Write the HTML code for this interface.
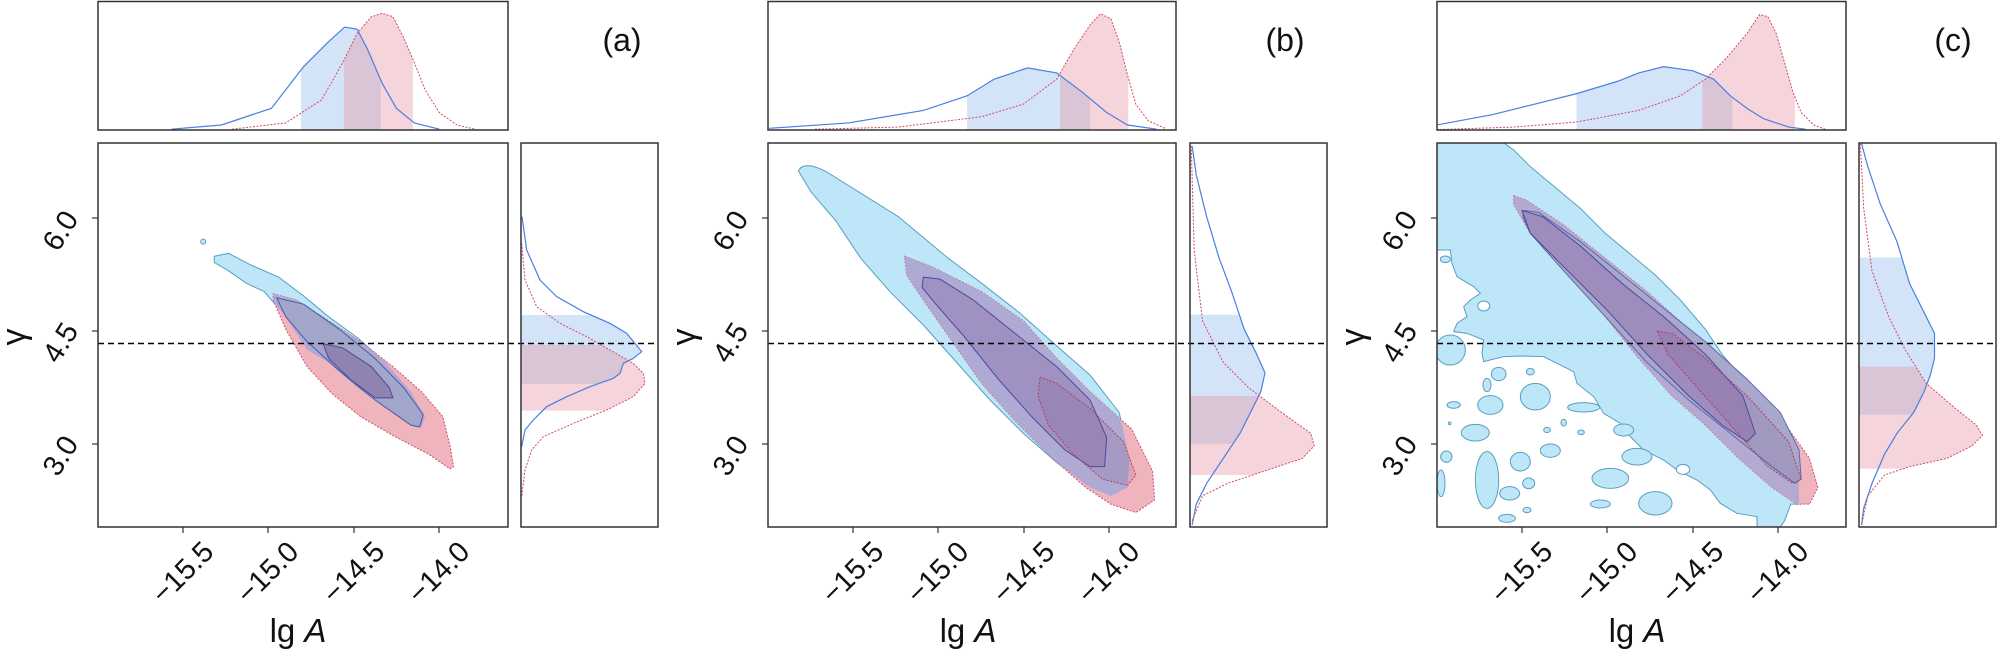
<!DOCTYPE html>
<html><head><meta charset="utf-8"><style>
html,body{margin:0;padding:0;background:#fff;}
svg{display:block;}
text{font-family:"Liberation Sans",sans-serif;fill:#111;}
.c{vector-effect:non-scaling-stroke;}
</style></head><body>
<svg width="2000" height="653" viewBox="0 0 2000 653" xmlns="http://www.w3.org/2000/svg">
<defs>
<clipPath id="ma"><rect x="98" y="143" width="410" height="384"/></clipPath>
<clipPath id="mb"><rect x="768" y="143" width="408" height="384"/></clipPath>
<clipPath id="mc"><rect x="1437" y="143" width="409" height="384"/></clipPath>
<clipPath id="ta"><rect x="98" y="1" width="410" height="129"/></clipPath>
<clipPath id="tb"><rect x="768" y="1" width="408" height="129"/></clipPath>
<clipPath id="tc"><rect x="1437" y="1" width="409" height="129"/></clipPath>
<clipPath id="sa1"><rect x="843" y="0" width="223" height="311"/></clipPath>
<clipPath id="sa2"><rect x="963" y="0" width="193" height="311"/></clipPath>
<clipPath id="sb1"><rect x="665" y="0" width="295" height="311"/></clipPath>
<clipPath id="sb2"><rect x="888" y="0" width="164" height="311"/></clipPath>
<clipPath id="sc1"><rect x="551" y="0" width="374" height="311"/></clipPath>
<clipPath id="sc2"><rect x="853" y="0" width="222" height="311"/></clipPath>
<clipPath id="ra1"><rect x="63" y="555" width="410" height="207"/></clipPath>
<clipPath id="ra2"><rect x="63" y="645" width="410" height="197"/></clipPath>
<clipPath id="rb1"><rect x="1201" y="755" width="330" height="310"/></clipPath>
<clipPath id="rb2"><rect x="1201" y="950" width="330" height="190"/></clipPath>
<clipPath id="rc1"><rect x="1230" y="618" width="330" height="377"/></clipPath>
<clipPath id="rc2"><rect x="1230" y="880" width="330" height="245"/></clipPath>
<clipPath id="boa"><path d="M600,615 L640,608 L700,635 L780,665 L850,710 L920,760 L1000,810 L1080,870 L1150,940 L1190,1000 L1180,1025 L1160,1025 L1100,990 L1000,930 L920,870 L860,840 L800,760 L740,700 L690,680 L640,650 L600,630 Z"/></clipPath>
<clipPath id="bob"><path d="M260,410 C270,390 300,395 340,420 L420,470 L500,520 L560,570 L620,620 L700,680 L790,750 L880,830 L960,900 L1030,990 L1055,1100 L1050,1170 L1010,1190 L960,1170 L880,1110 L800,1040 L720,960 L640,870 L560,780 L480,700 L410,620 L350,530 L290,460 Z"/></clipPath>
<clipPath id="boc"><path d="M215,342 L375,342 L400,360 L440,400 L500,450 L560,500 L620,560 L680,610 L740,660 L800,720 L860,790 L900,850 L960,920 L1020,990 L1075,1060 L1085,1150 L1085,1210 L1065,1210 L1050,1250 L1040,1265 L215,1265 Z"/></clipPath>
</defs>

<!-- ================= PANEL A ================= -->
<g clip-path="url(#ta)">
<g transform="scale(0.35714,0.41667)">
 <g clip-path="url(#sa1)"><path d="M480,311 L480,310 620,300 760,260 850,160 920,100 965,65 1000,70 1030,120 1070,200 1110,260 1160,295 1230,310 1230,311 Z" fill="rgba(140,185,240,0.38)"/></g>
 <g clip-path="url(#sa2)"><path d="M650,311 L650,310 800,295 900,240 960,150 1000,80 1040,40 1070,32 1100,40 1130,90 1160,150 1190,215 1230,270 1280,300 1330,310 1330,311 Z" fill="rgba(230,150,165,0.4)"/></g>
 <polyline class="c" points="480,310 620,300 760,260 850,160 920,100 965,65 1000,70 1030,120 1070,200 1110,260 1160,295 1230,310" fill="none" stroke="#4a7fe0" stroke-width="1.2"/>
 <polyline class="c" points="650,310 800,295 900,240 960,150 1000,80 1040,40 1070,32 1100,40 1130,90 1160,150 1190,215 1230,270 1280,300 1330,310" fill="none" stroke="#d04a68" stroke-width="1" stroke-dasharray="2,1.5"/>
</g></g>
<g clip-path="url(#ma)">
<g transform="scale(0.35714,0.41667)">
 <ellipse class="c" cx="569" cy="580" rx="7" ry="6" fill="#bde6f8" stroke="#5a9fbf"/>
 <path class="c" d="M600,615 L640,608 L700,635 L780,665 L850,710 L920,760 L1000,810 L1080,870 L1150,940 L1190,1000 L1180,1025 L1160,1025 L1100,990 L1000,930 L920,870 L860,840 L800,760 L740,700 L690,680 L640,650 L600,630 Z" fill="#bde6f8" stroke="#5a9fbf" stroke-width="1"/>
 <path class="c" d="M765,705 L830,720 L920,770 L1010,820 L1100,880 L1180,940 L1240,1000 L1260,1070 L1270,1120 L1260,1125 L1200,1090 L1100,1045 L1010,1000 L930,945 L860,880 L800,790 L765,720 Z" fill="#f0b4bc" stroke="#c85070" stroke-width="1" stroke-dasharray="2,1.5"/>
 <g clip-path="url(#boa)"><path d="M765,705 L830,720 L920,770 L1010,820 L1100,880 L1180,940 L1240,1000 L1260,1070 L1270,1120 L1260,1125 L1200,1090 L1100,1045 L1010,1000 L930,945 L860,880 L800,790 L765,720 Z" fill="#b2a9d2"/></g>
 <path class="c" d="M775,715 L850,730 L950,790 L1050,860 L1130,930 L1185,995 L1175,1025 L1150,1020 L1050,960 L950,890 L860,820 L800,760 Z" fill="#a3a6cb" stroke="#4a5aa8" stroke-width="1"/>
 <path class="c" d="M905,825 L960,835 L1040,880 L1090,930 L1100,955 L1050,955 L980,910 L920,860 Z" fill="#8f83b0" stroke="#4a4a9a" stroke-width="1"/>
</g></g>
<g transform="translate(500,130) scale(0.33333)">
 <g clip-path="url(#ra1)"><path d="M63,260 L66,260 80,360 120,450 170,500 250,545 330,580 380,610 405,640 425,665 400,685 370,700 360,730 340,745 270,770 200,800 140,830 100,870 75,900 65,950 63,950 Z" fill="rgba(140,185,240,0.38)"/></g>
 <g clip-path="url(#ra2)"><path d="M63,340 L65,340 75,450 110,530 180,580 260,620 330,660 400,700 430,730 435,760 400,800 320,840 220,880 130,920 95,960 75,1020 65,1100 63,1100 Z" fill="rgba(230,150,165,0.4)"/></g>
 <polyline class="c" points="66,260 80,360 120,450 170,500 250,545 330,580 380,610 405,640 425,665 400,685 370,700 360,730 340,745 270,770 200,800 140,830 100,870 75,900 65,950" fill="none" stroke="#4a7fe0" stroke-width="1.2"/>
 <polyline class="c" points="65,340 75,450 110,530 180,580 260,620 330,660 400,700 430,730 435,760 400,800 320,840 220,880 130,920 95,960 75,1020 65,1100" fill="none" stroke="#d04a68" stroke-width="1" stroke-dasharray="2,1.5"/>
</g>

<!-- ================= PANEL B ================= -->
<g clip-path="url(#tb)">
<g transform="translate(690,0) scale(0.41667)">
 <g clip-path="url(#sb1)"><path d="M190,311 L190,308 380,295 560,265 665,230 730,190 810,163 880,175 940,220 1000,270 1050,300 1120,310 1120,311 Z" fill="rgba(140,185,240,0.38)"/></g>
 <g clip-path="url(#sb2)"><path d="M300,311 L300,310 500,305 700,280 800,250 880,190 920,120 960,60 985,33 1010,45 1030,100 1050,180 1070,250 1100,290 1140,308 1140,311 Z" fill="rgba(230,150,165,0.4)"/></g>
 <polyline class="c" points="190,308 380,295 560,265 665,230 730,190 810,163 880,175 940,220 1000,270 1050,300 1120,310" fill="none" stroke="#4a7fe0" stroke-width="1.2"/>
 <polyline class="c" points="300,310 500,305 700,280 800,250 880,190 920,120 960,60 985,33 1010,45 1030,100 1050,180 1070,250 1100,290 1140,308" fill="none" stroke="#d04a68" stroke-width="1" stroke-dasharray="2,1.5"/>
</g></g>
<g clip-path="url(#mb)">
<g transform="translate(690,0) scale(0.41667)">
 <path class="c" d="M260,410 C270,390 300,395 340,420 L420,470 L500,520 L560,570 L620,620 L700,680 L790,750 L880,830 L960,900 L1030,990 L1055,1100 L1050,1170 L1010,1190 L960,1170 L880,1110 L800,1040 L720,960 L640,870 L560,780 L480,700 L410,620 L350,530 L290,460 Z" fill="#bde6f8" stroke="#5a9fbf" stroke-width="1"/>
 <path class="c" d="M515,615 L580,640 L700,700 L800,770 L880,860 L960,940 L1060,1030 L1110,1130 L1115,1200 L1070,1230 L1010,1210 L950,1170 L870,1100 L780,1010 L700,920 L630,820 L560,720 L520,660 Z" fill="#f0b4bc" stroke="#c85070" stroke-width="1" stroke-dasharray="2,1.5"/>
 <g clip-path="url(#bob)"><path d="M515,615 L580,640 L700,700 L800,770 L880,860 L960,940 L1060,1030 L1110,1130 L1115,1200 L1070,1230 L1010,1210 L950,1170 L870,1100 L780,1010 L700,920 L630,820 L560,720 L520,660 Z" fill="#aeaad3"/></g>
 <path class="c" d="M560,665 L600,670 L680,720 L780,800 L880,880 L960,960 L1000,1050 L995,1120 L960,1120 L900,1080 L820,1000 L740,910 L660,810 L590,730 L557,690 Z" fill="#9f91c1" stroke="#4a4a9a" stroke-width="1"/>
 <path class="c" d="M840,905 L880,920 L960,980 L1040,1060 L1070,1140 L1050,1165 L990,1150 L920,1090 L860,1020 L835,950 Z" fill="rgba(120,70,120,0.15)" stroke="#b04060" stroke-width="1" stroke-dasharray="2,1.5"/>
</g></g>
<g transform="translate(690,0) scale(0.41667)">
 <g clip-path="url(#rb1)"><path d="M1201,350 L1205,350 1215,420 1240,520 1270,620 1300,700 1330,790 1360,850 1380,895 1370,940 1350,980 1320,1040 1280,1100 1240,1160 1215,1210 1205,1260 1201,1260 Z" fill="rgba(140,185,240,0.38)"/></g>
 <g clip-path="url(#rb2)"><path d="M1201,350 L1203,350 1210,600 1230,770 1280,870 1340,930 1420,990 1490,1040 1498,1070 1470,1100 1380,1130 1290,1160 1230,1190 1205,1250 1201,1250 Z" fill="rgba(230,150,165,0.4)"/></g>
 <polyline class="c" points="1205,350 1215,420 1240,520 1270,620 1300,700 1330,790 1360,850 1380,895 1370,940 1350,980 1320,1040 1280,1100 1240,1160 1215,1210 1205,1260" fill="none" stroke="#4a7fe0" stroke-width="1.2"/>
 <polyline class="c" points="1203,350 1210,600 1230,770 1280,870 1340,930 1420,990 1490,1040 1498,1070 1470,1100 1380,1130 1290,1160 1230,1190 1205,1250" fill="none" stroke="#d04a68" stroke-width="1" stroke-dasharray="2,1.5"/>
</g>

<!-- ================= PANEL C ================= -->
<g clip-path="url(#tc)">
<g transform="translate(1347,0) scale(0.41667)">
 <g clip-path="url(#sc1)"><path d="M215,311 L215,300 350,275 450,250 550,225 650,195 700,175 760,160 830,170 880,190 920,230 960,260 1000,285 1060,305 1100,310 1100,311 Z" fill="rgba(140,185,240,0.38)"/></g>
 <g clip-path="url(#sc2)"><path d="M215,311 L400,305 550,293 700,265 800,230 860,190 910,140 960,80 990,35 1010,40 1030,80 1050,150 1070,220 1090,270 1120,300 1150,311 Z" fill="rgba(230,150,165,0.4)"/></g>
 <polyline class="c" points="215,300 350,275 450,250 550,225 650,195 700,175 760,160 830,170 880,190 920,230 960,260 1000,285 1060,305 1100,310" fill="none" stroke="#4a7fe0" stroke-width="1.2"/>
 <polyline class="c" points="215,311 400,305 550,293 700,265 800,230 860,190 910,140 960,80 990,35 1010,40 1030,80 1050,150 1070,220 1090,270 1120,300 1150,311" fill="none" stroke="#d04a68" stroke-width="1" stroke-dasharray="2,1.5"/>
</g></g>
<g clip-path="url(#mc)">
<g transform="translate(1347,0) scale(0.41667)">
 <path class="c" d="M215,342 L375,342 L400,360 L440,400 L500,450 L560,500 L620,560 L680,610 L740,660 L800,720 L860,790 L900,850 L960,920 L1020,990 L1075,1060 L1085,1150 L1085,1210 L1065,1210 L1050,1250 L1040,1265 L215,1265 Z" fill="#bde6f8" stroke="#5a9fbf" stroke-width="1"/>
</g>
<g transform="translate(1437,250) scale(0.33333)">
 <path class="c" d="M0,0 L40,0 L45,40 L60,80 L110,110 L130,130 L100,150 L80,170 L90,200 L60,220 L50,245 L90,250 L140,270 L135,310 L140,335 L200,320 L250,318 L320,320 L360,340 L410,365 L420,400 L470,440 L500,490 L550,520 L580,560 L620,600 L680,630 L720,660 L780,690 L820,720 L850,760 L900,790 L960,800 L960,840 L0,840 Z" fill="#fff" stroke="#5a9fbf" stroke-width="1"/>
 <g fill="#bde6f8" stroke="#5a9fbf" stroke-width="1">
  <ellipse class="c" cx="25" cy="28" rx="15" ry="10"/>
  <ellipse class="c" cx="40" cy="300" rx="45" ry="45"/>
  <ellipse class="c" cx="185" cy="372" rx="22" ry="20"/>
  <ellipse class="c" cx="150" cy="405" rx="12" ry="20"/>
  <ellipse class="c" cx="280" cy="365" rx="12" ry="10"/>
  <ellipse class="c" cx="50" cy="465" rx="20" ry="10"/>
  <ellipse class="c" cx="160" cy="465" rx="38" ry="28"/>
  <ellipse class="c" cx="295" cy="440" rx="45" ry="40"/>
  <ellipse class="c" cx="115" cy="548" rx="42" ry="25"/>
  <ellipse class="c" cx="38" cy="520" rx="4" ry="4"/>
  <ellipse class="c" cx="380" cy="518" rx="8" ry="10"/>
  <ellipse class="c" cx="330" cy="540" rx="10" ry="8"/>
  <ellipse class="c" cx="432" cy="547" rx="10" ry="7"/>
  <ellipse class="c" cx="340" cy="602" rx="30" ry="20"/>
  <ellipse class="c" cx="28" cy="620" rx="17" ry="17"/>
  <ellipse class="c" cx="250" cy="635" rx="30" ry="28"/>
  <ellipse class="c" cx="150" cy="690" rx="35" ry="85"/>
  <ellipse class="c" cx="275" cy="700" rx="18" ry="16"/>
  <ellipse class="c" cx="12" cy="700" rx="12" ry="40"/>
  <ellipse class="c" cx="218" cy="730" rx="30" ry="20"/>
  <ellipse class="c" cx="520" cy="685" rx="55" ry="30"/>
  <ellipse class="c" cx="490" cy="762" rx="30" ry="12"/>
  <ellipse class="c" cx="655" cy="760" rx="50" ry="35"/>
  <ellipse class="c" cx="270" cy="780" rx="12" ry="8"/>
  <ellipse class="c" cx="210" cy="805" rx="25" ry="12"/>
  <ellipse class="c" cx="440" cy="472" rx="48" ry="14"/>
  <ellipse class="c" cx="600" cy="620" rx="45" ry="25"/>
  <ellipse class="c" cx="560" cy="540" rx="30" ry="18"/>
 </g>
 <ellipse class="c" cx="140" cy="168" rx="18" ry="15" fill="#fff" stroke="#5a9fbf"/>
 <ellipse class="c" cx="738" cy="658" rx="20" ry="15" fill="#fff" stroke="#5a9fbf"/>
</g>
<g transform="translate(1347,0) scale(0.41667)">
 <path class="c" d="M400,470 L430,480 L520,540 L620,620 L720,700 L820,790 L900,880 L980,950 L1060,1030 L1110,1100 L1130,1170 L1110,1210 L1080,1210 L1020,1170 L940,1100 L860,1020 L780,950 L700,860 L620,760 L520,640 L440,560 L400,490 Z" fill="#f0b4bc" stroke="#c85070" stroke-width="1" stroke-dasharray="2,1.5"/>
 <g clip-path="url(#boc)"><path d="M400,470 L430,480 L520,540 L620,620 L720,700 L820,790 L900,880 L980,950 L1060,1030 L1110,1100 L1130,1170 L1110,1210 L1080,1210 L1020,1170 L940,1100 L860,1020 L780,950 L700,860 L620,760 L520,640 L440,560 L400,490 Z" fill="#b3a9d1"/></g>
 <path class="c" d="M425,505 L460,510 L560,580 L660,660 L760,740 L860,820 L960,910 L1040,990 L1085,1080 L1090,1150 L1075,1160 L1020,1120 L920,1040 L820,960 L720,870 L620,760 L520,650 L440,560 L422,520 Z" fill="#a9a7cc" stroke="#5a6ab0" stroke-width="1"/>
 <path class="c" d="M420,505 L470,520 L560,590 L660,680 L760,760 L860,850 L950,950 L980,1040 L960,1060 L900,1020 L820,950 L720,850 L620,740 L520,640 L440,560 Z" fill="#9d8cbd" stroke="#4a4a9a" stroke-width="1"/>
 <path class="c" d="M745,795 L780,800 L860,860 L960,950 L1060,1060 L1090,1150 L1070,1160 L1010,1120 L920,1020 L840,930 L770,850 Z" fill="rgba(120,70,120,0.15)" stroke="#b04060" stroke-width="1" stroke-dasharray="2,1.5"/>
</g></g>
<g transform="translate(1347,0) scale(0.41667)">
 <g clip-path="url(#rc1)"><path d="M1230,345 L1235,345 1250,400 1280,490 1320,580 1350,680 1390,760 1410,800 1410,860 1400,900 1385,940 1360,990 1320,1040 1290,1090 1260,1160 1240,1220 1235,1260 1230,1260 Z" fill="rgba(140,185,240,0.38)"/></g>
 <g clip-path="url(#rc2)"><path d="M1230,345 L1232,345 1240,500 1260,650 1300,760 1340,840 1390,920 1460,980 1510,1020 1525,1045 1500,1070 1440,1100 1350,1120 1290,1140 1250,1190 1235,1260 1230,1260 Z" fill="rgba(230,150,165,0.4)"/></g>
 <polyline class="c" points="1235,345 1250,400 1280,490 1320,580 1350,680 1390,760 1410,800 1410,860 1400,900 1385,940 1360,990 1320,1040 1290,1090 1260,1160 1240,1220 1235,1260" fill="none" stroke="#4a7fe0" stroke-width="1.2"/>
 <polyline class="c" points="1232,345 1240,500 1260,650 1300,760 1340,840 1390,920 1460,980 1510,1020 1525,1045 1500,1070 1440,1100 1350,1120 1290,1140 1250,1190 1235,1260" fill="none" stroke="#d04a68" stroke-width="1" stroke-dasharray="2,1.5"/>
</g>

<g stroke="#000" stroke-width="1.5" stroke-dasharray="6,4">
 <line x1="98" y1="343.5" x2="658" y2="343.5"/>
 <line x1="768" y1="343.5" x2="1327" y2="343.5"/>
 <line x1="1437" y1="343.5" x2="1996" y2="343.5"/>
</g>

<g fill="none" stroke="#333" stroke-width="1.5">
 <rect x="98" y="1.5" width="410" height="128.5"/><rect x="98" y="143" width="410" height="384"/><rect x="521" y="143" width="137" height="384"/>
 <rect x="768" y="1.5" width="408" height="128.5"/><rect x="768" y="143" width="408" height="384"/><rect x="1190" y="143" width="137" height="384"/>
 <rect x="1437" y="1.5" width="409" height="128.5"/><rect x="1437" y="143" width="409" height="384"/><rect x="1859" y="143" width="137" height="384"/>
</g>

<g font-size="29">
 <g stroke="#333" stroke-width="1.2">
  <line x1="183" y1="527" x2="183" y2="533"/><line x1="268" y1="527" x2="268" y2="533"/><line x1="354" y1="527" x2="354" y2="533"/><line x1="439" y1="527" x2="439" y2="533"/>
  <line x1="92" y1="218" x2="98" y2="218"/><line x1="92" y1="331" x2="98" y2="331"/><line x1="92" y1="444" x2="98" y2="444"/>
  <line x1="853" y1="527" x2="853" y2="533"/><line x1="938" y1="527" x2="938" y2="533"/><line x1="1024" y1="527" x2="1024" y2="533"/><line x1="1109" y1="527" x2="1109" y2="533"/>
  <line x1="762" y1="218" x2="768" y2="218"/><line x1="762" y1="331" x2="768" y2="331"/><line x1="762" y1="444" x2="768" y2="444"/>
  <line x1="1522" y1="527" x2="1522" y2="533"/><line x1="1607" y1="527" x2="1607" y2="533"/><line x1="1693" y1="527" x2="1693" y2="533"/><line x1="1778" y1="527" x2="1778" y2="533"/>
  <line x1="1431" y1="218" x2="1437" y2="218"/><line x1="1431" y1="331" x2="1437" y2="331"/><line x1="1431" y1="444" x2="1437" y2="444"/>
 </g>
 <g text-anchor="middle" dominant-baseline="central">
  <text transform="translate(183,573) rotate(-45)">−15.5</text>
  <text transform="translate(268,573) rotate(-45)">−15.0</text>
  <text transform="translate(354,573) rotate(-45)">−14.5</text>
  <text transform="translate(439,573) rotate(-45)">−14.0</text>
  <text transform="translate(61,231) rotate(-58)">6.0</text>
  <text transform="translate(61,343) rotate(-58)">4.5</text>
  <text transform="translate(61,456) rotate(-58)">3.0</text>
  <text transform="translate(14,337) rotate(-90)" font-size="34">γ</text>

  <text transform="translate(853,573) rotate(-45)">−15.5</text>
  <text transform="translate(938,573) rotate(-45)">−15.0</text>
  <text transform="translate(1024,573) rotate(-45)">−14.5</text>
  <text transform="translate(1109,573) rotate(-45)">−14.0</text>
  <text transform="translate(731,231) rotate(-58)">6.0</text>
  <text transform="translate(731,343) rotate(-58)">4.5</text>
  <text transform="translate(731,456) rotate(-58)">3.0</text>
  <text transform="translate(684,337) rotate(-90)" font-size="34">γ</text>

  <text transform="translate(1522,573) rotate(-45)">−15.5</text>
  <text transform="translate(1607,573) rotate(-45)">−15.0</text>
  <text transform="translate(1693,573) rotate(-45)">−14.5</text>
  <text transform="translate(1778,573) rotate(-45)">−14.0</text>
  <text transform="translate(1400,231) rotate(-58)">6.0</text>
  <text transform="translate(1400,343) rotate(-58)">4.5</text>
  <text transform="translate(1400,456) rotate(-58)">3.0</text>
  <text transform="translate(1353,337) rotate(-90)" font-size="34">γ</text>
 </g>
 <g font-size="33" text-anchor="middle">
  <text x="298" y="642">lg <tspan font-style="italic">A</tspan></text>
  <text x="968" y="642">lg <tspan font-style="italic">A</tspan></text>
  <text x="1637" y="642">lg <tspan font-style="italic">A</tspan></text>
 </g>
 <g font-size="32" text-anchor="middle">
  <text x="622" y="51">(a)</text>
  <text x="1285" y="51">(b)</text>
  <text x="1953" y="51">(c)</text>
 </g>
</g>
</svg>
</body></html>
